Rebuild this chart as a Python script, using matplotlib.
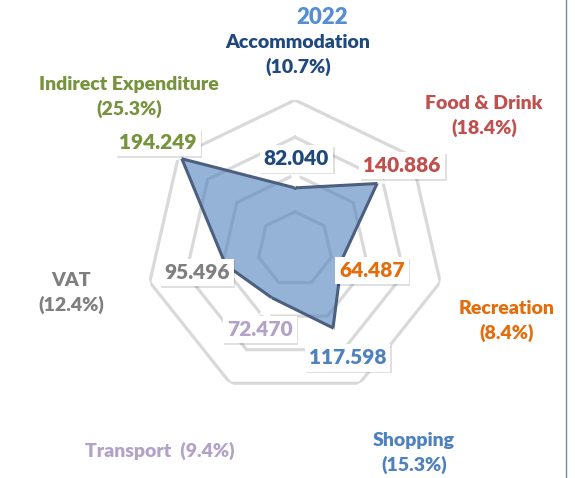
import numpy as np
import matplotlib
matplotlib.use("Agg")
import matplotlib.pyplot as plt
import matplotlib.patheffects as pe
from matplotlib.lines import Line2D

# Tourism spending by category, 2022
categories = ["Accommodation", "Food & Drink", "Recreation", "Shopping",
              "Transport", "VAT", "Indirect Expenditure"]
values = [82.040, 140.886, 64.487, 117.598, 72.470, 95.496, 194.249]
shares = ["10.7%", "18.4%", "8.4%", "15.3%", "9.4%", "12.4%", "25.3%"]
value_labels = ["82.040", "140.886", "64.487", "117.598", "72.470", "95.496", "194.249"]
title = "2022"
ring_levels = [50, 100, 150, 200]

colors = ["#1f497d", "#c0504d", "#e46c0a", "#4f81bd", "#b3a2c7", "#7f7f7f", "#77933c"]

FONT = ["Lato", "DejaVu Sans"]
W, H = 575, 478
fig = plt.figure(figsize=(W / 100, H / 100), dpi=100)
fig.patch.set_facecolor("white")

# polar axes: centre (295, 249) px, outer radius 149 px
cx, cy, R = 295, 249, 149
ax = fig.add_axes([(cx - R) / W, (H - cy - R) / H, 2 * R / W, 2 * R / H],
                  projection="polar")
ax.set_theta_zero_location("N")
ax.set_theta_direction(-1)
ax.set_ylim(0, ring_levels[-1])
ax.grid(False)
ax.set_xticks([])
ax.set_yticks([])
ax.spines["polar"].set_visible(False)
ax.patch.set_alpha(0)

n = len(categories)
theta = np.arange(n) * 2 * np.pi / n
theta_c = np.append(theta, theta[0])

# heptagonal rings
for lvl in ring_levels:
    ax.plot(theta_c, [lvl] * (n + 1), color="#d9d9d9", lw=2.3, zorder=1,
            solid_joinstyle="miter")

vals_c = np.append(values, values[0])
ax.fill(theta_c, vals_c, color="#4f81bd", alpha=0.6, zorder=2, lw=0)
ax.plot(theta_c, vals_c, color="#4c5f7f", lw=2.2, zorder=3,
        solid_joinstyle="miter")

# value callouts (offsets in pixels from each vertex)
offsets = [(1.5, 29), (25, 18), (30, -11), (14.5, -30), (-12, -32), (-29, -8), (-24, 16.5)]
shadow = [pe.withSimplePatchShadow(offset=(1.2, -1.2), shadow_rgbFace="#000000", alpha=0.12)]
for i in range(n):
    t = ax.annotate(value_labels[i], xy=(theta[i], values[i]), xytext=offsets[i],
                    textcoords="offset pixels", ha="center", va="center",
                    fontsize=15, fontweight="heavy", color=colors[i], family=FONT,
                    bbox=dict(boxstyle="square,pad=0.2", fc="white", ec="none"),
                    arrowprops=dict(arrowstyle="wedge,tail_width=0.55,shrink_factor=0.5",
                                    fc="white", ec="none", shrinkA=0, shrinkB=0),
                    zorder=5, annotation_clip=False)
    t.get_bbox_patch().set_path_effects(shadow)

# category labels (pixel centres)
label_pos = [(298, 55), (484, 116), (507, 321), (414, 453), (160, 451), (71, 293), (129, 97)]
for i in range(n):
    x, y = label_pos[i]
    if categories[i] == "Transport":
        txt = f"{categories[i]}  ({shares[i]})"
    else:
        txt = f"{categories[i]}\n({shares[i]})"
    fig.text(x / W, 1 - y / H, txt, ha="center", va="center", fontsize=14,
             fontweight="heavy", color=colors[i], family=FONT, linespacing=1.4)

fig.text(322 / W, 1 - 17 / H, title, ha="center", va="center", fontsize=16,
         fontweight="heavy", color="#558ed5", family=FONT)

# thin frame line at the right edge
fig.add_artist(Line2D([565.5 / W, 565.5 / W], [0, 1], transform=fig.transFigure,
                      color="#7a86a0", lw=1.0))

fig.savefig("out.png", dpi=100, facecolor="white")
